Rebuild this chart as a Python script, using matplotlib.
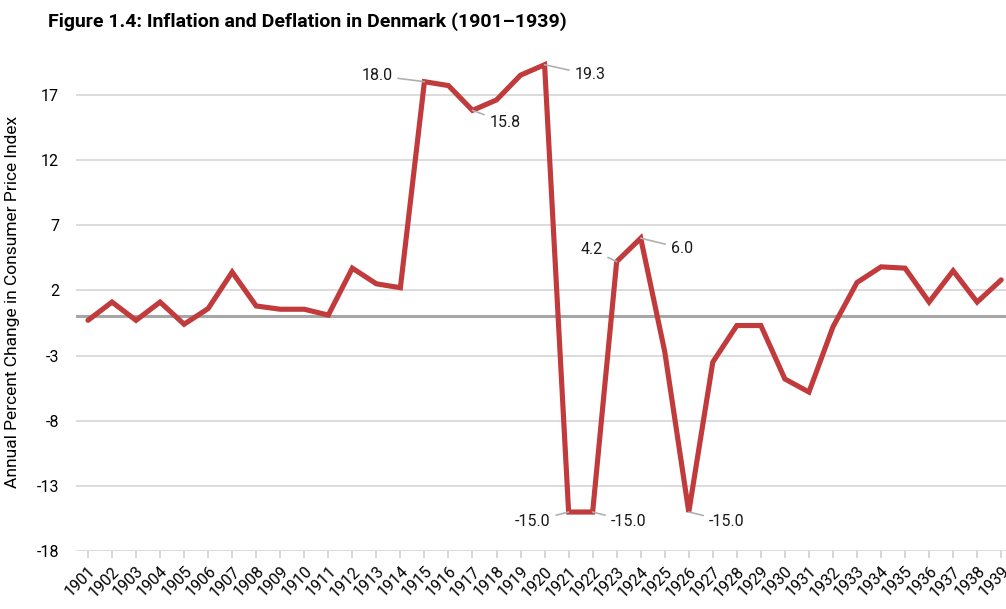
import matplotlib
matplotlib.use("Agg")
import matplotlib.pyplot as plt

# Data
years = list(range(1901, 1940))
cpi_change = [
    -0.3, 1.1, -0.3, 1.1, -0.6, 0.6, 3.4, 0.8, 0.55, 0.55,
    0.1, 3.7, 2.5, 2.2, 18.0, 17.7, 15.8, 16.6, 18.5, 19.3,
    -15.0, -15.0, 4.2, 6.0, -2.7, -15.0, -3.5, -0.7, -0.7, -4.8,
    -5.8, -0.8, 2.6, 3.8, 3.7, 1.1, 3.5, 1.1, 2.8,
]
y_ticks = [-18, -13, -8, -3, 2, 7, 12, 17]

# Labelled points: (year, text offset in pixels, alignment)
labels = {
    1915: ((-32, 6), "right"),
    1917: ((17, -12), "left"),
    1920: ((30, -10), "left"),
    1923: ((-14, 12), "right"),
    1924: ((30, -10), "left"),
    1921: ((-18, -9), "right"),
    1922: ((18, -9), "left"),
    1926: ((20, -9), "left"),
}

plt.rcParams["font.family"] = ["Roboto", "DejaVu Sans"]
plt.rcParams["axes.unicode_minus"] = False

fig = plt.figure(figsize=(10.06, 6.09), dpi=100)
ax = fig.add_axes([0.0755, 0.095, 0.9245, 0.818])

ax.plot(years, cpi_change, color="#c13a3c", lw=3.7, solid_joinstyle="miter",
        solid_capstyle="round", zorder=3)
ax.axhline(0, color="#a6a6a6", lw=2.2, zorder=2)

for yr, (off, ha) in labels.items():
    val = cpi_change[years.index(yr)]
    ax.annotate(f"{val:.1f}", xy=(yr, val), xytext=off, textcoords="offset pixels",
                ha=ha, va="center", fontsize=11.5, color="#1a1a1a",
                arrowprops=dict(arrowstyle="-", color="#b0b0b0", lw=1.2,
                                shrinkA=2, shrinkB=0))

ax.set_xlim(1900.5, 1939.2)
ax.set_ylim(-18, 20.2)
ax.set_yticks(y_ticks)
ax.set_xticks(years)
ax.set_xticklabels([str(y) for y in years], rotation=45, ha="right",
                   rotation_mode="anchor", fontsize=11.5)
ax.tick_params(axis="y", length=0, labelsize=11.5, pad=12)
ax.tick_params(axis="x", length=5, color="#d0d0d0", width=1.2, pad=4)
ax.grid(axis="y", color="#d9d9d9", lw=1.3, zorder=1)
for s in ax.spines.values():
    s.set_visible(False)
ax.set_ylabel("Annual Percent Change in Consumer Price Index", fontsize=12.5,
              labelpad=12)
ax.yaxis.set_label_coords(-0.06, 0.5)

fig.text(0.048, 0.965, "Figure 1.4: Inflation and Deflation in Denmark (1901\u20131939)",
         fontsize=14, fontweight="bold", va="center", ha="left")

fig.savefig("out.png", dpi=100)
